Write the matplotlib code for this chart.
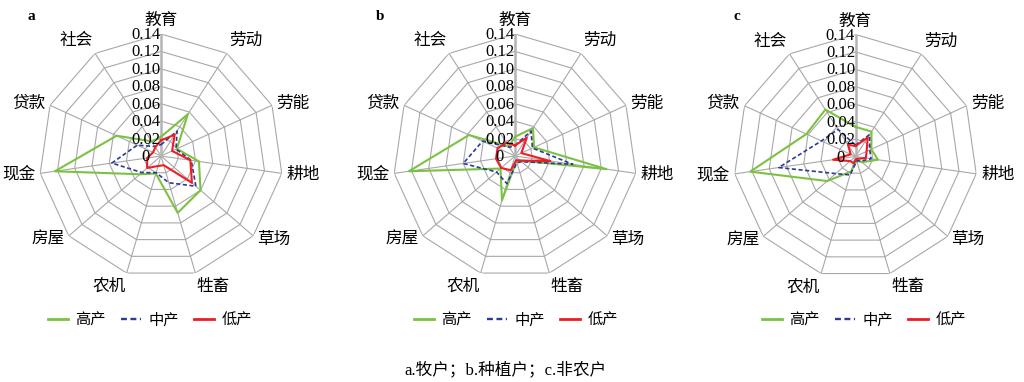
import matplotlib
matplotlib.use('Agg')
import matplotlib.pyplot as plt
import numpy as np
from matplotlib.transforms import offset_copy
from matplotlib.lines import Line2D

plt.rcParams['font.family'] = ['Noto Sans CJK SC', 'DejaVu Sans']

categories = ['教育', '劳动', '劳能', '耕地', '草场', '牲畜', '农机', '房屋', '现金', '贷款', '社会']
tick_values = [0, 0.02, 0.04, 0.06, 0.08, 0.10, 0.12, 0.14]
tick_labels = ['0', '0.02', '0.04', '0.06', '0.08', '0.10', '0.12', '0.14']
series_names = ['高产', '中产', '低产']
panel_letters = ['a', 'b', 'c']
caption = 'a.牧户；b.种植户；c.非农户'

# panel a: 牧户
a_high = [0.022, 0.057, 0.020, 0.044, 0.060, 0.068, 0.021, 0.032, 0.123, 0.056, 0.020]
a_mid = [0.013, 0.034, 0.019, 0.035, 0.053, 0.032, 0.020, 0.029, 0.057, 0.030, 0.013]
a_low = [0.018, 0.029, 0.014, 0.034, 0.047, 0.011, 0.012, 0.021, 0.016, 0.010, 0.012]
# panel b: 种植户
b_high = [0.022, 0.038, 0.024, 0.106, 0.008, 0.006, 0.053, 0.022, 0.123, 0.058, 0.013]
b_mid = [0.012, 0.034, 0.022, 0.067, 0.010, 0.008, 0.033, 0.028, 0.060, 0.041, 0.012]
b_low = [0.012, 0.025, 0.008, 0.041, 0.008, 0.005, 0.017, 0.021, 0.022, 0.022, 0.018]
# panel c: 非农户
c_high = [0.034, 0.034, 0.020, 0.026, 0.010, 0.005, 0.018, 0.043, 0.122, 0.062, 0.064]
c_mid = [0.013, 0.030, 0.018, 0.018, 0.008, 0.005, 0.022, 0.030, 0.089, 0.043, 0.037]
c_low = [0.012, 0.026, 0.014, 0.012, 0.004, 0.003, 0.008, 0.008, 0.026, 0.006, 0.016]

panels = [(a_high, a_mid, a_low), (b_high, b_mid, b_low), (c_high, c_mid, c_low)]

W, H = 1024, 382
fig = plt.figure(figsize=(W / 100, H / 100), dpi=100)

centers = [(161, 156), (515, 156), (855.5, 156.5)]
R = 122
letter_x = [31, 380, 737]
legend_x = [150, 516, 864]

styles = [
    dict(color='#7CC242', lw=1.5, ls='-'),
    dict(color='#2E3A96', lw=1.2, ls=(0, (2.5, 1.5))),
    dict(color='#EE1C25', lw=1.5, ls='-'),
]
grid_color = '#A8A8A8'

n = len(categories)
theta = np.arange(n) * 2 * np.pi / n
theta_c = np.append(theta, theta[0])
rmax = tick_values[-1]

for i, (data, (cx, cy)) in enumerate(zip(panels, centers)):
    ax = fig.add_axes([(cx - R) / W, (H - cy - R) / H, 2 * R / W, 2 * R / H], projection='polar')
    ax.set_theta_zero_location('N')
    ax.set_theta_direction(-1)
    ax.set_ylim(0, rmax)
    ax.set_axis_off()

    for v in tick_values[1:]:
        ax.plot(theta_c, [v] * (n + 1), color=grid_color, lw=0.8, zorder=1)
    for t in theta[1:]:
        ax.plot([t, t], [0, rmax], color=grid_color, lw=0.8, zorder=1)
    ax.plot([0, 0], [0, rmax], color='#B4B4B4', lw=1.8, zorder=1)

    for vals, st in zip(data, styles):
        v = np.append(vals, vals[0])
        ax.plot(theta_c, v, color=st['color'], lw=st['lw'], ls=st['ls'], zorder=3)

    for v, lab in zip(tick_values, tick_labels):
        tr = offset_copy(ax.transData, fig=fig, x=-15, y=-1, units='dots')
        ax.text(0, v, lab, transform=tr, ha='center', va='center',
                family=['Liberation Serif'], fontsize=12, zorder=4)

    for t, lab in zip(theta, categories):
        sx, cyy = np.sin(t), np.cos(t)
        ha = 'left' if sx > 0.1 else ('right' if sx < -0.1 else 'center')
        va = 'bottom' if cyy > 0.75 else ('top' if cyy < -0.75 else 'center')
        tr = offset_copy(ax.transData, fig=fig, x=5 * sx, y=5 * cyy, units='dots')
        ax.text(t, rmax, lab, transform=tr, ha=ha, va=va, fontsize=12)

    fig.text(letter_x[i] / W, 1 - 17 / H, panel_letters[i], ha='center', va='center',
             family=['Liberation Serif'], fontsize=11, weight='bold')

    handles = [Line2D([], [], color=st['color'], lw=st['lw'] + 0.5, ls=st['ls']) for st in styles]
    fig.legend(handles, series_names, loc='center', bbox_to_anchor=(legend_x[i] / W, 1 - 320 / H),
               ncol=3, frameon=False, fontsize=11, handlelength=1.3, handletextpad=0.5,
               columnspacing=1.0)

fig.text(505 / W, 1 - 370 / H, caption, ha='center', va='center',
         family=['Liberation Serif', 'Noto Sans CJK SC'], fontsize=12)

fig.savefig('out.png', dpi=100)
